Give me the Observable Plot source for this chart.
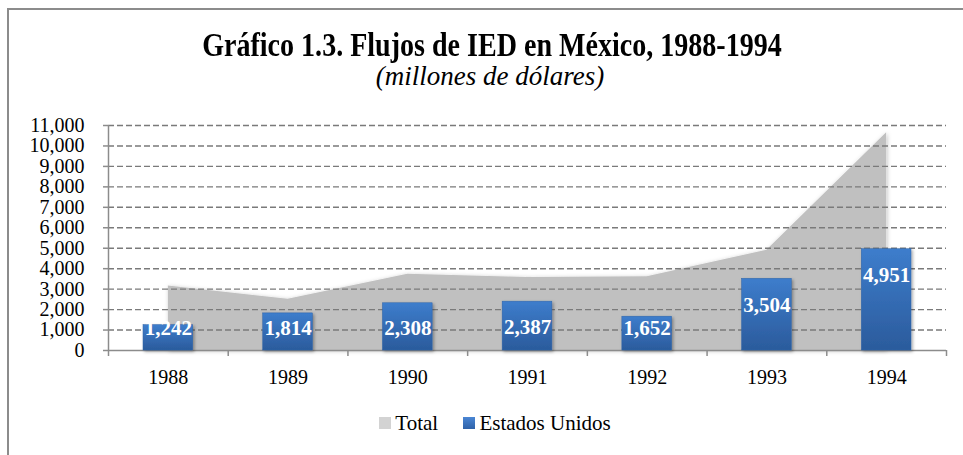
<!DOCTYPE html>
<html>
<head>
<meta charset="utf-8">
<script src="https://cdn.jsdelivr.net/npm/d3@7"></script>
<script src="https://cdn.jsdelivr.net/npm/@observablehq/plot@0.6"></script>
<style>
  html, body { margin: 0; padding: 0; background: #fff; overflow: hidden; width: 963px; height: 455px; }
  body { font-family: "Liberation Serif", "Times New Roman", serif; position: relative; }
  #frame { position: absolute; left: 7px; top: 8px; width: 1100px; height: 600px; border: 2px solid #8c8c8c; box-sizing: border-box; }
  #title { position: absolute; left: 0; width: 984px; top: 29px; height: 33px; text-align: center; font-weight: bold; font-size: 33px; line-height: 1; color: #000; transform: scaleX(0.85); transform-origin: 492px 0; white-space: nowrap; }
  #subtitle { position: absolute; left: 0; width: 980px; top: 63px; text-align: center; font-style: italic; font-size: 27px; line-height: 1; color: #000; white-space: nowrap; }
  #chart { position: absolute; left: 0; top: 100px; }
  #legend { position: absolute; left: 0; width: 990px; top: 410px; text-align: center; font-size: 21px; color: #000; white-space: nowrap; }
  .item { display: inline-flex; align-items: center; margin: 0 10px; }
  .sw { display: inline-block; width: 12px; height: 12px; margin-right: 4px; }
</style>
</head>
<body>
<div id="frame"></div>
<div id="title">Gráfico 1.3. Flujos de IED en México, 1988-1994</div>
<div id="subtitle">(millones de dólares)</div>
<div id="chart"></div>
<div id="legend">
  <span class="item"><span class="sw" style="background:#d3d3d3"></span>Total</span>
  <span class="item"><span class="sw" style="background:linear-gradient(#4a86d4,#2f62a8)"></span>Estados Unidos</span>
</div>
<script>
// ---- data ----
const years = [1988, 1989, 1990, 1991, 1992, 1993, 1994];
const totalValues = [3157, 2500, 3722, 3565, 3600, 4901, 10647];
const usValues = [1242, 1814, 2308, 2387, 1652, 3504, 4951];
const yTickValues = [0, 1000, 2000, 3000, 4000, 5000, 6000, 7000, 8000, 9000, 10000, 11000];
const seriesNames = ["Total", "Estados Unidos"];

const rows = years.map((year, i) => ({year, total: totalValues[i], us: usValues[i]}));
const boundaries = d3.range(years.length + 1).map(i => years[0] - 0.5 + i);
const labelFloor = 2350; // labels of short bars stay at this level (Excel "inside end" behaviour)
const fmt = d3.format(",");
const serif = "'Liberation Serif', 'Times New Roman', serif";

const plot = Plot.plot({
  width: 963,
  height: 300,
  marginLeft: 108,
  marginRight: 17,
  marginTop: 25,
  marginBottom: 50,
  style: {fontFamily: serif, fontSize: "20px", color: "#000", background: "transparent", overflow: "visible"},
  x: {type: "linear", domain: [years[0] - 0.5, years[years.length - 1] + 0.5], label: null},
  y: {domain: [0, 11000], label: null},
  marks: [
    Plot.areaY(rows, {x: "year", y: "total", fill: "#c0c0c0", className: "area-total"}),
    Plot.gridY(yTickValues.filter(d => d > 0), {stroke: "#7a7a7a", strokeOpacity: 1, strokeWidth: 1.4, strokeDasharray: "6,3"}),
    Plot.ruleY([0], {stroke: "#8c8c8c", strokeWidth: 1.5}),
    Plot.ruleX([boundaries[0]], {stroke: "#8c8c8c", strokeWidth: 1.5}),
    Plot.axisY({ticks: yTickValues, tickFormat: fmt, tickSize: 5, tickPadding: 19, stroke: "#8c8c8c", strokeWidth: 1.5, fontSize: 20, fill: "#000", label: null}),
    Plot.axisX({ticks: boundaries, tickFormat: () => "", tickSize: 6, stroke: "#8c8c8c", strokeWidth: 1.5, label: null}),
    Plot.axisX({ticks: years, tickFormat: d => String(d), tickSize: 0, tickPadding: 19, fontSize: 20, fill: "#000", label: null}),
    Plot.rectY(rows, {x1: d => d.year - 0.5, x2: d => d.year + 0.5, y: "us", insetLeft: 35, insetRight: 35, fill: "url(#usGrad)", stroke: "#2f64a8", strokeWidth: 0.5, className: "bars-us"}),
    Plot.text(rows, {x: "year", y: d => Math.max(d.us, labelFloor), dy: 26, text: d => fmt(d.us), fill: "#fff", fontWeight: "bold", fontSize: 21})
  ]
});

const svg = d3.select(plot);
const defs = svg.insert("defs", ":first-child");
defs.html(`
  <linearGradient id="usGrad" x1="0" y1="0" x2="0" y2="1">
    <stop offset="0" stop-color="#3d7dcc"/>
    <stop offset="1" stop-color="#2b5b9c"/>
  </linearGradient>
  <filter id="shadow" x="-20%" y="-20%" width="140%" height="140%">
    <feDropShadow dx="1.5" dy="1.5" stdDeviation="1.5" flood-color="#000" flood-opacity="0.35"/>
  </filter>
  <filter id="soft" x="-5%" y="-5%" width="110%" height="110%">
    <feDropShadow dx="1" dy="1" stdDeviation="2" flood-color="#000" flood-opacity="0.25"/>
  </filter>`);
svg.selectAll("g.bars-us").attr("filter", "url(#shadow)");
svg.selectAll("g.area-total").attr("filter", "url(#soft)");
document.getElementById("chart").append(plot);
</script>
</body>
</html>
